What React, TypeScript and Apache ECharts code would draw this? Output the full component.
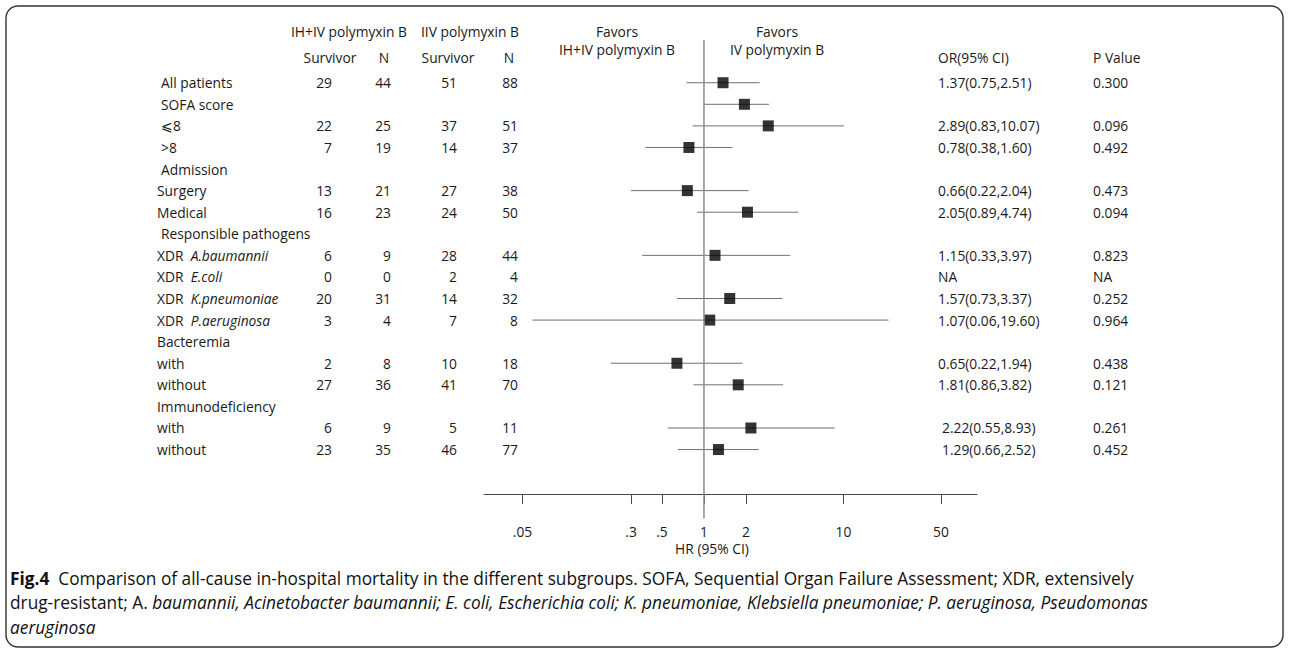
import React, { useEffect, useRef } from "react";
import * as echarts from "echarts";

const FONT = '"Open Sans", "Noto Sans", sans-serif';

// Row labels (plain part + italic part)
const rowLabels = [
  "All patients", "SOFA score", "⩽8", ">8", "Admission", "Surgery", "Medical",
  "Responsible pathogens", "XDR  ", "XDR  ", "XDR  ", "XDR  ", "Bacteremia", "with",
  "without", "Immunodeficiency", "with", "without",
];
const rowLabelsItalic = [
  "", "", "", "", "", "", "", "", "A.baumannii", "E.coli", "K.pneumoniae",
  "P.aeruginosa", "", "", "", "", "", "",
];
const survivorsIH = [29, null, 22, 7, null, 13, 16, null, 6, 0, 20, 3, null, 2, 27, null, 6, 23];
const totalIH = [44, null, 25, 19, null, 21, 23, null, 9, 0, 31, 4, null, 8, 36, null, 9, 35];
const survivorsIV = [51, null, 37, 14, null, 27, 24, null, 28, 2, 14, 7, null, 10, 41, null, 5, 46];
const totalIV = [88, null, 51, 37, null, 38, 50, null, 44, 4, 32, 8, null, 18, 70, null, 11, 77];
const orText = [
  "1.37(0.75,2.51)", "", "2.89(0.83,10.07)", "0.78(0.38,1.60)", "", "0.66(0.22,2.04)",
  "2.05(0.89,4.74)", "", "1.15(0.33,3.97)", "NA", "1.57(0.73,3.37)", "1.07(0.06,19.60)",
  "", "0.65(0.22,1.94)", "1.81(0.86,3.82)", "", "2.22(0.55,8.93)", "1.29(0.66,2.52)",
];
const pText = [
  "0.300", "", "0.096", "0.492", "", "0.473", "0.094", "", "0.823", "NA", "0.252", "0.964",
  "", "0.438", "0.121", "", "0.261", "0.452",
];
// Plotted estimates as drawn in the figure
const hrPoint = [1.37, 1.95, 2.89, 0.78, null, 0.76, 2.05, null, 1.2, null, 1.53, 1.1, null, 0.64, 1.76, null, 2.17, 1.27];
const hrLow = [0.75, 1.0, 0.83, 0.38, null, 0.3, 0.89, null, 0.36, null, 0.64, 0.059, null, 0.215, 0.84, null, 0.55, 0.65];
const hrHigh = [2.51, 2.92, 10.07, 1.6, null, 2.09, 4.74, null, 4.15, null, 3.64, 21.0, null, 1.89, 3.7, null, 8.65, 2.47];

const tickValues = [0.05, 0.3, 0.5, 1, 2, 10, 50];
const tickLabels = [".05", ".3", ".5", "1", "2", "10", "50"];

export default function App() {
  const ref = useRef<HTMLDivElement>(null);

  useEffect(() => {
    const chart = echarts.init(ref.current!, null, { renderer: "svg" });
    const idx = rowLabels.map((_, i) => i).filter((i) => hrPoint[i] != null);
    const ciData = idx.map((i) => [hrLow[i], hrHigh[i], i]);
    const ptData = idx.map((i) => [hrPoint[i], i]);
    const yMin = -1.98;
    const yMax = 19.06;
    const FS = 13.8;

    chart.setOption({
      animation: false,
      grid: { left: 484, width: 493, top: 40, height: 454 },
      xAxis: {
        type: "log",
        logBase: 10,
        min: 0.0265,
        max: 90.6,
        axisLine: { show: true, onZero: false, lineStyle: { color: "#4a4a4a", width: 1 } },
        axisTick: {
          show: true,
          customValues: tickValues,
          length: 10,
          lineStyle: { color: "#4a4a4a", width: 1 },
        },
        axisLabel: {
          customValues: tickValues,
          margin: 30,
          fontSize: FS,
          fontFamily: FONT,
          color: "#1a1a1a",
          formatter: (v: number) => {
            let best = 0;
            let bd = Infinity;
            tickValues.forEach((t, k) => {
              const d = Math.abs(Math.log(v) - Math.log(t));
              if (d < bd) { bd = d; best = k; }
            });
            return tickLabels[best];
          },
        },
        splitLine: { show: false },
        minorTick: { show: false },
      },
      yAxis: { type: "value", inverse: true, min: yMin, max: yMax, show: false },
      series: [
        {
          type: "line",
          data: [[1, yMin], [1, 20.2]],
          symbol: "none",
          clip: false,
          silent: true,
          lineStyle: { color: "#8c8c8c", width: 1.5 },
        },
        {
          type: "custom",
          clip: false,
          silent: true,
          encode: { x: [0, 1], y: 2 },
          data: ciData,
          renderItem: (_p: any, api: any) => {
            const y = api.value(2);
            const a = api.coord([api.value(0), y]);
            const b = api.coord([api.value(1), y]);
            return {
              type: "line",
              shape: { x1: a[0], y1: a[1], x2: b[0], y2: b[1] },
              style: { stroke: "#707070", lineWidth: 1 },
            };
          },
        },
        {
          type: "scatter",
          data: ptData,
          symbol: "rect",
          symbolSize: 11,
          silent: true,
          itemStyle: { color: "#000" },
        },
      ],
    });

    const yPix = (i: number) => chart.convertToPixel({ yAxisIndex: 0 }, i) as number;
    const xOne = chart.convertToPixel({ xAxisIndex: 0 }, 1) as number;

    const T = (text: string, x: number, y: number, align = "left", extra: any = {}) => ({
      type: "text",
      x,
      y,
      silent: true,
      style: {
        text,
        fill: "#1a1a1a",
        fontSize: FS,
        fontFamily: FONT,
        textAlign: align,
        textVerticalAlign: "middle",
        ...extra,
      },
    });

    const els: any[] = [];
    // frame
    els.push({
      type: "rect",
      silent: true,
      shape: { x: 6, y: 6, width: 1277, height: 641, r: 12 },
      style: { fill: "none", stroke: "#333", lineWidth: 1.4 },
    });
    // headers
    els.push(T("IH+IV polymyxin B", 349, 31, "center"));
    els.push(T("IIV polymyxin B", 470, 31, "center"));
    els.push(T("Survivor", 330, 57, "center"));
    els.push(T("N", 384, 57, "center"));
    els.push(T("Survivor", 448, 57, "center"));
    els.push(T("N", 509, 57, "center"));
    els.push(T("Favors", 617, 31, "center"));
    els.push(T("IH+IV polymyxin B", 617, 49, "center"));
    els.push(T("Favors", 777, 31, "center"));
    els.push(T("IV polymyxin B", 777, 49, "center"));
    els.push(T("OR(95% CI)", 938, 57, "left"));
    els.push(T("P Value", 1093, 57, "left"));

    rowLabels.forEach((lab, i) => {
      const y = yPix(i);
      const x = i <= 4 || i === 7 ? 161 : 157;
      const it = rowLabelsItalic[i];
      els.push(
        T(it ? `${lab}{i|${it}}` : lab, x, y, "left", {
          rich: { i: { fontStyle: "italic", fontSize: FS, fontFamily: FONT, fill: "#1a1a1a" } },
        })
      );
      if (survivorsIH[i] != null) {
        els.push(T(String(survivorsIH[i]), 332, y, "right"));
        els.push(T(String(totalIH[i]), 391, y, "right"));
        els.push(T(String(survivorsIV[i]), 457, y, "right"));
        els.push(T(String(totalIV[i]), 518, y, "right"));
      }
      if (orText[i]) {
        const ox = i >= 16 ? 942 : 938;
        els.push(T(orText[i], ox, y, "left"));
        els.push(T(pText[i], 1093, y, "left"));
      }
    });

    els.push(T("HR (95% CI)", xOne + 8, 548, "center"));

    // caption
    const CFS = 17.3;
    const capRich = {
      b: { fontWeight: "bold", fontSize: CFS, fontFamily: FONT, fill: "#111" },
      i: { fontStyle: "italic", fontSize: CFS, fontFamily: FONT, fill: "#111" },
    };
    const capStyle = { fontSize: CFS, fill: "#111", rich: capRich };
    els.push(
      T(
        "{b|Fig.4}  Comparison of all-cause in-hospital mortality in the different subgroups. SOFA, Sequential Organ Failure Assessment; XDR, extensively",
        10, 578, "left", capStyle
      )
    );
    els.push(
      T(
        "drug-resistant; A. {i|baumannii, Acinetobacter baumannii; E. coli, Escherichia coli; K. pneumoniae, Klebsiella pneumoniae; P. aeruginosa, Pseudomonas}",
        10, 602, "left", capStyle
      )
    );
    els.push(T("{i|aeruginosa}", 10, 627, "left", capStyle));

    chart.setOption({ graphic: els });

    return () => chart.dispose();
  }, []);

  return (
    <div
      ref={ref}
      style={{ position: "absolute", left: 0, top: 0, width: 1290, height: 649, background: "#fff" }}
    />
  );
}
